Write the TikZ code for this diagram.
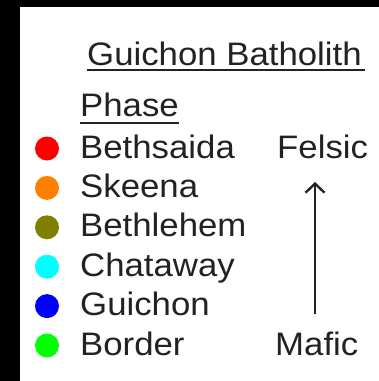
\documentclass[tikz,border=0pt]{standalone}
\usepackage{fontspec}
\setmainfont{Liberation Sans}
\usetikzlibrary{arrows.meta}
\definecolor{txt}{HTML}{222222}
\definecolor{cRed}{HTML}{FF0000}
\definecolor{cOrange}{HTML}{FF8000}
\definecolor{cOlive}{HTML}{808000}
\definecolor{cCyan}{HTML}{00FFFF}
\definecolor{cBlue}{HTML}{0000FF}
\definecolor{cGreen}{HTML}{00FF00}
\newcommand\widetxt[1]{\scalebox{1.07}[1]{#1}}
\tikzset{
  lbl/.style={anchor=base west, inner sep=0pt, text=txt,
    font=\fontsize{32.5}{40}\selectfont},
  dot/.style={circle, inner sep=0pt, minimum size=24pt, draw=none},
  uline/.style={draw=txt, line width=1.6pt},
}
\begin{document}
\begin{tikzpicture}[x=1pt,y=-1pt]
\useasboundingbox (0,0) rectangle (379,381);
\fill[black] (0,0) rectangle (379,381);
\fill[white] (20,7) rectangle (379,381);
\node[lbl] (title) at (87,65) {\widetxt{Guichon Batholith}};
\draw[uline] ([yshift=-5pt]title.base west) -- ([yshift=-5pt,xshift=3pt]title.base east);
\node[lbl] (phase) at (80,116) {\widetxt{Phase}};
\draw[uline] ([yshift=-7pt]phase.base west) -- ([yshift=-7pt]phase.base east);
\foreach \n/\t/\c [count=\i from 0] in {a/Bethsaida/cRed, b/Skeena/cOrange, c/Bethlehem/cOlive, d/Chataway/cCyan, e/Guichon/cBlue, f/Border/cGreen}{
  \node[lbl] (t\n) at (80,158+39.4*\i) {\widetxt{\t}};
  \node[dot, fill=\c] (d\n) at (47,148.5+39.4*\i) {};
}
\node[lbl] (felsic) at (277,158) {\widetxt{Felsic}};
\node[lbl] (mafic) at (275,355) {\widetxt{Mafic}};
\coordinate (arrbot) at (315,314);
\coordinate (arrtop) at (315,182);
\draw[draw=txt, line width=1.5pt, -{Straight Barb[length=9pt,width=19pt,line width=2.4pt]}] (arrbot) -- (arrtop);
\end{tikzpicture}
\end{document}
